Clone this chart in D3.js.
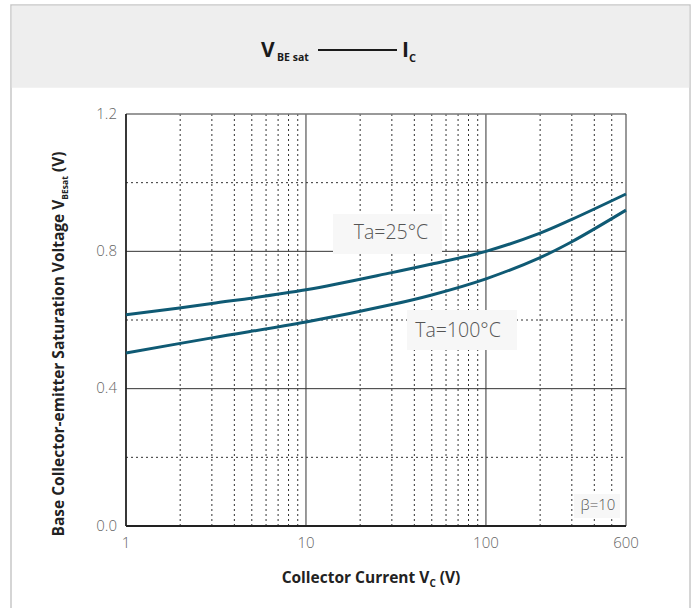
<!DOCTYPE html>
<html>
<head>
<meta charset="utf-8">
<script src="https://cdn.jsdelivr.net/npm/d3@7"></script>
<style>
  body { margin: 0; background: #fff; }
  text { font-family: "Open Sans", "Noto Sans", sans-serif; }
</style>
</head>
<body>
<script>
// data
var current = [1, 3, 10, 30, 50, 100, 200, 300, 600];
var vbe25 = [0.615, 0.648, 0.688, 0.738, 0.763, 0.80, 0.853, 0.893, 0.967];
var vbe100 = [0.504, 0.548, 0.594, 0.645, 0.673, 0.72, 0.782, 0.828, 0.92];
var yTicks = [0.0, 0.4, 0.8, 1.2];
var yMajor = [0.4, 0.8];
var yMinor = [0.2, 0.6, 1.0];
var xTicks = [1, 10, 100, 600];
var xMajor = [10, 100];
var xMinor = [2, 3, 4, 5, 6, 7, 8, 9, 20, 30, 40, 50, 60, 70, 80, 90, 200, 300, 400, 500];

var W = 696, H = 608;
var pL = 126, pR = 626, pT = 114, pB = 526;

var svg = d3.select('body').append('svg')
  .attr('width', W)
  .attr('height', H);

// frame + header band
svg.append('rect').attr('x', 11).attr('y', 5).attr('width', 679).attr('height', 620)
  .attr('fill', '#fff').attr('stroke', '#c8c8c8').attr('stroke-width', 1.5);
svg.append('rect').attr('x', 11.75).attr('y', 5.75).attr('width', 677.5).attr('height', 82)
  .attr('fill', '#eeeeee');

// title
var title = svg.append('g');
title.append('text').attr('x', 261).attr('y', 57).attr('font-size', 21).attr('font-weight', 'bold')
  .attr('fill', '#1a1a1a').text('V');
title.append('text').attr('x', 277).attr('y', 61).attr('font-size', 10.5).attr('font-weight', 'bold')
  .attr('fill', '#1a1a1a').text('BE sat');
title.append('line').attr('x1', 318).attr('x2', 397).attr('y1', 50).attr('y2', 50)
  .attr('stroke', '#1a1a1a').attr('stroke-width', 2.2);
title.append('text').attr('x', 402).attr('y', 57).attr('font-size', 21).attr('font-weight', 'bold')
  .attr('fill', '#1a1a1a').text('I');
title.append('text').attr('x', 409).attr('y', 62).attr('font-size', 11).attr('font-weight', 'bold')
  .attr('fill', '#1a1a1a').text('C');

var x = d3.scaleLog().domain([1, 600]).range([pL, pR]);
var y = d3.scaleLinear().domain([0, 1.2]).range([pB, pT]);

var grid = svg.append('g');

// dotted minor grid
grid.selectAll('.xminor').data(xMinor).enter().append('line')
  .attr('x1', function(d) { return x(d); }).attr('x2', function(d) { return x(d); })
  .attr('y1', pT).attr('y2', pB)
  .attr('stroke', '#333').attr('stroke-width', 1).attr('stroke-dasharray', '2,3');
grid.selectAll('.yminor').data(yMinor).enter().append('line')
  .attr('x1', pL).attr('x2', pR)
  .attr('y1', function(d) { return y(d); }).attr('y2', function(d) { return y(d); })
  .attr('stroke', '#333').attr('stroke-width', 1).attr('stroke-dasharray', '2,3');

// solid major grid
grid.selectAll('.xmajor').data(xMajor).enter().append('line')
  .attr('x1', function(d) { return x(d); }).attr('x2', function(d) { return x(d); })
  .attr('y1', pT).attr('y2', pB)
  .attr('stroke', '#333').attr('stroke-width', 1);
grid.selectAll('.ymajor').data(yMajor).enter().append('line')
  .attr('x1', pL).attr('x2', pR)
  .attr('y1', function(d) { return y(d); }).attr('y2', function(d) { return y(d); })
  .attr('stroke', '#333').attr('stroke-width', 1);

// plot border: top/right grey, left/bottom dark
svg.append('line').attr('x1', pL).attr('x2', pR).attr('y1', pT).attr('y2', pT)
  .attr('stroke', '#777').attr('stroke-width', 1.5);
svg.append('line').attr('x1', pR).attr('x2', pR).attr('y1', pT).attr('y2', pB)
  .attr('stroke', '#555').attr('stroke-width', 1.2);
svg.append('line').attr('x1', pL).attr('x2', pL).attr('y1', pT).attr('y2', pB)
  .attr('stroke', '#222').attr('stroke-width', 1.8);
svg.append('line').attr('x1', pL).attr('x2', pR).attr('y1', pB).attr('y2', pB)
  .attr('stroke', '#222').attr('stroke-width', 1.8);

// label boxes
function label(bx, by, w, h, tx, ty, txt, size) {
  svg.append('rect').attr('x', bx).attr('y', by).attr('width', w).attr('height', h)
    .attr('fill', '#f7f7f7');
  svg.append('text').attr('x', tx).attr('y', ty).attr('dy', '0.35em')
    .attr('text-anchor', 'middle').attr('font-size', size).attr('fill', '#555')
    .attr('font-weight', 300).text(txt);
}
label(333, 214, 109, 40, 391, 232, 'Ta=25°C', 19.5);
label(407, 310, 110, 40, 458, 330, 'Ta=100°C', 19.5);
label(574, 494, 46, 24, 598, 505, 'β=10', 15);

// curves
var pts25 = current.map(function(c, i) { return [c, vbe25[i]]; });
var pts100 = current.map(function(c, i) { return [c, vbe100[i]]; });
var line = d3.line()
  .x(function(d) { return x(d[0]); })
  .y(function(d) { return y(d[1]); })
  .curve(d3.curveCatmullRom.alpha(0.5));

svg.selectAll('.curve').data([pts25, pts100]).enter().append('path')
  .attr('d', line)
  .attr('fill', 'none')
  .attr('stroke', '#0f5a74')
  .attr('stroke-width', 3);

// tick labels
svg.selectAll('.ylab').data(yTicks).enter().append('text')
  .attr('x', 117).attr('y', function(d) { return y(d); }).attr('dy', '0.3em')
  .attr('text-anchor', 'end').attr('font-size', 15).attr('font-weight', 300).attr('fill', '#666')
  .text(function(d) { return d.toFixed(1); });
svg.selectAll('.xlab').data(xTicks).enter().append('text')
  .attr('x', function(d) { return x(d); }).attr('y', 548)
  .attr('text-anchor', 'middle').attr('font-size', 15).attr('font-weight', 300).attr('fill', '#666')
  .text(function(d) { return d; });

// axis titles
var xt = svg.append('text').attr('x', 371).attr('y', 583).attr('text-anchor', 'middle')
  .attr('font-size', 15.5).attr('font-weight', 'bold').attr('fill', '#222');
xt.append('tspan').text('Collector Current  V');
xt.append('tspan').attr('font-size', 10).attr('dy', 4).text('C');
xt.append('tspan').attr('dy', -4).text(' (V)');

var yt = svg.append('text').attr('transform', 'translate(64,344) rotate(-90)')
  .attr('text-anchor', 'middle').attr('font-size', 15.5).attr('font-weight', 'bold').attr('fill', '#222');
yt.append('tspan').text('Base Collector-emitter Saturation Voltage  V');
yt.append('tspan').attr('font-size', 8.5).attr('dy', 4).text('BEsat');
yt.append('tspan').attr('dy', -4).text(' (V)');
</script>
</body>
</html>
